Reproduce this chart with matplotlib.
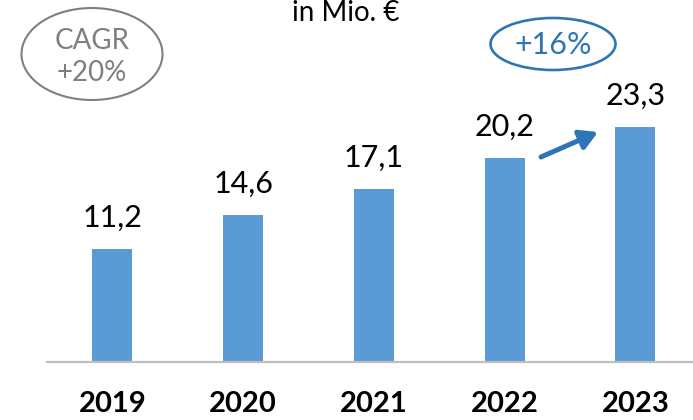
import matplotlib.pyplot as plt
from matplotlib.patches import Ellipse

plt.rcParams['font.family'] = ['Lato', 'DejaVu Sans']

years = ['2019', '2020', '2021', '2022', '2023']
umsatz = [11.2, 14.6, 17.1, 20.2, 23.3]
labels = ['11,2', '14,6', '17,1', '20,2', '23,3']

bar_color = '#5b9bd5'
blue = '#2e75b6'
grey = '#7f7f7f'

W, H = 693, 420
fig = plt.figure(figsize=(W / 100, H / 100), dpi=100)

# Hauptachse (Balken)
ax = fig.add_axes([47 / W, 58 / H, 1 - 47 / W, 362 / H])
x = range(len(years))
ax.bar(x, umsatz, width=0.306, color=bar_color, zorder=2)
ax.set_xlim(-0.5, 4.44)
ax.set_ylim(0, 35.84)

for xi, v, lab in zip(x, umsatz, labels):
    ax.annotate(lab, xy=(xi, v), xytext=(0, 16), textcoords='offset points',
                ha='center', va='baseline', fontsize=22, color='black')

ax.set_xticks(list(x))
ax.set_xticklabels(years, fontsize=21, fontweight='bold')
ax.tick_params(axis='x', length=0, pad=21)
ax.set_yticks([])
for s in ['top', 'right', 'left']:
    ax.spines[s].set_visible(False)
ax.spines['bottom'].set_color('#bfbfbf')
ax.spines['bottom'].set_linewidth(1.6)

# Overlay in Pixelkoordinaten fuer Anmerkungen
ov = fig.add_axes([0, 0, 1, 1])
ov.set_xlim(0, W)
ov.set_ylim(H, 0)
ov.axis('off')

ov.text(346, 21, 'in Mio. €', ha='center', va='baseline', fontsize=20)

ov.add_patch(Ellipse((92, 54), 141, 92, fill=False, edgecolor=grey, lw=1.5))
ov.text(92, 57, 'CAGR\n+20%', ha='center', va='center', fontsize=20,
        color=grey, linespacing=1.25)

ov.add_patch(Ellipse((553, 44), 125, 52, fill=False, edgecolor=blue, lw=1.9))
ov.text(553, 45, '+16%', ha='center', va='center', fontsize=22, color=blue)

ov.annotate('', xy=(598, 132), xytext=(541, 157),
            arrowprops=dict(arrowstyle='-|>,head_length=0.7,head_width=0.4',
                            lw=3.6, color=blue, mutation_scale=15,
                            shrinkA=0, shrinkB=0))

fig.savefig('out.png', dpi=100)
